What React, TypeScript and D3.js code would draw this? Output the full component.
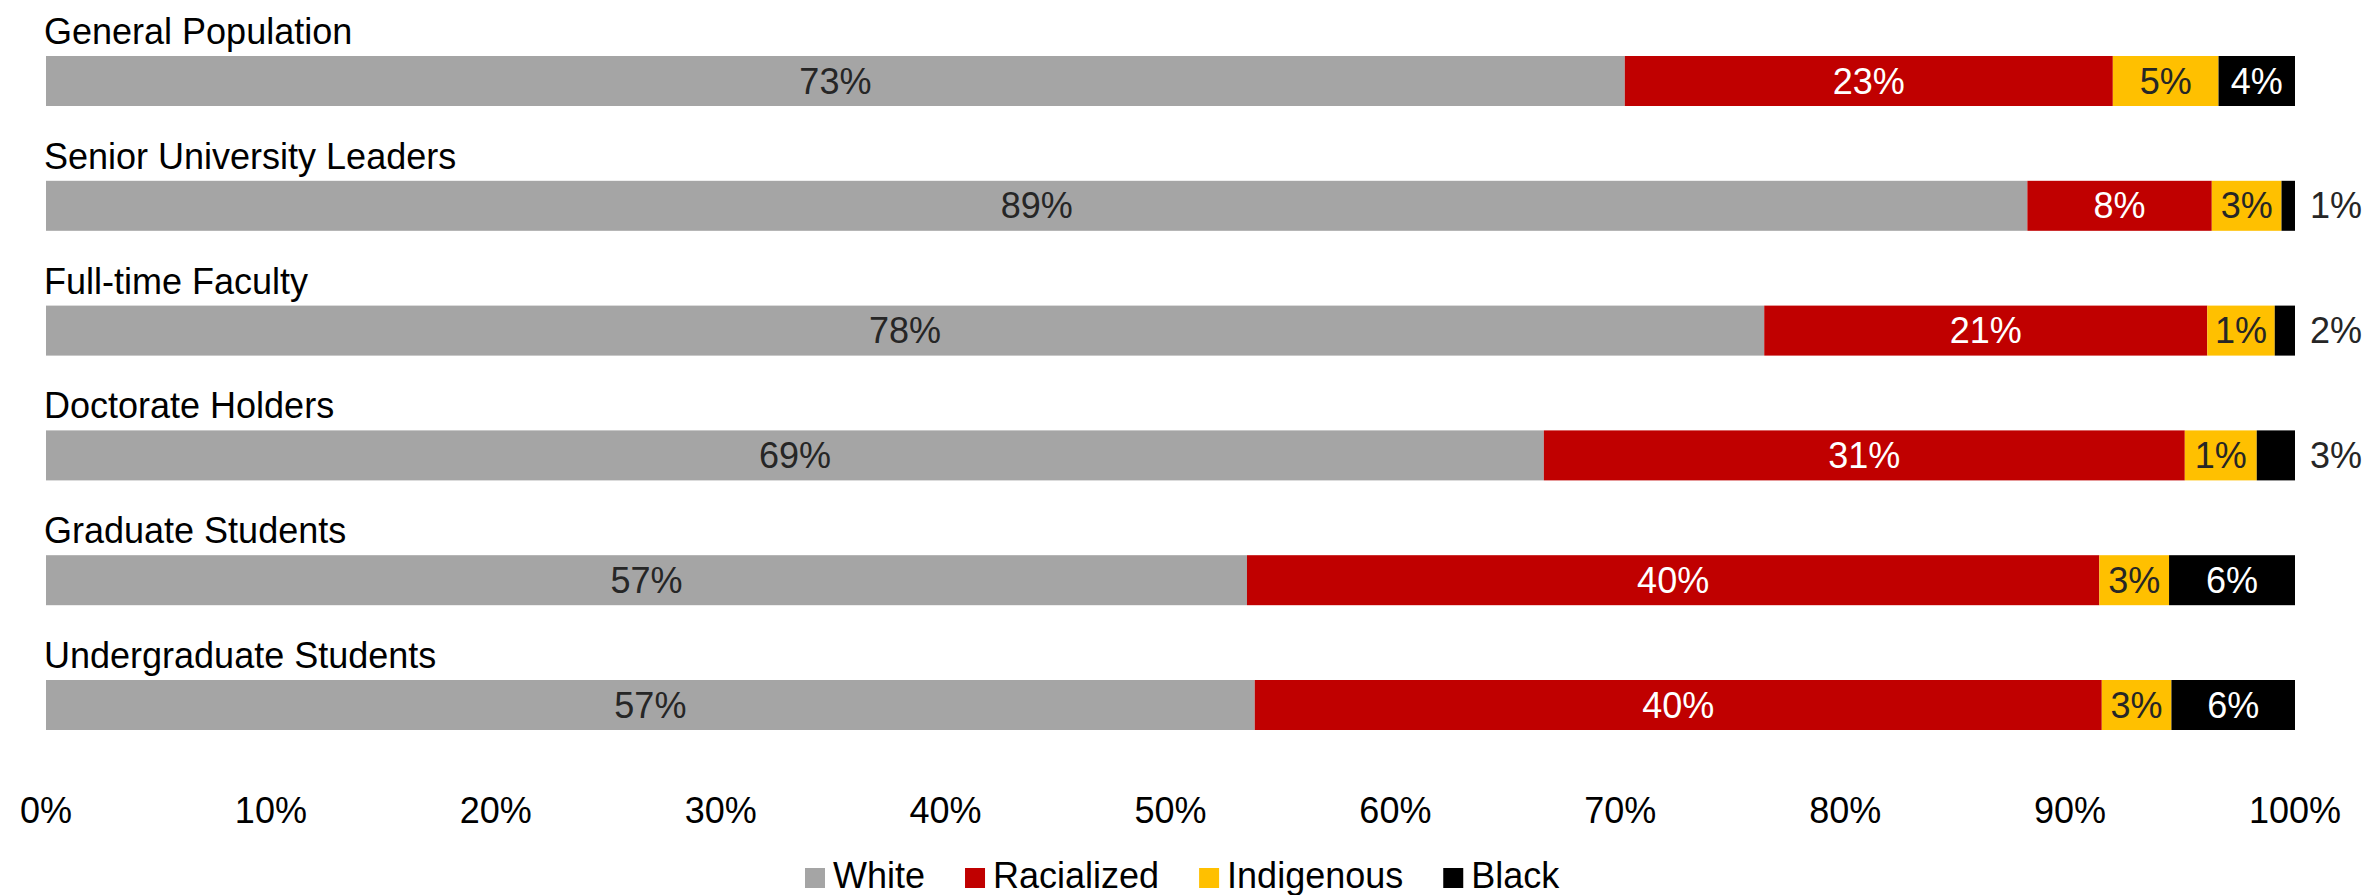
import React from 'react';
import * as d3 from 'd3';

const categories = [
  'General Population',
  'Senior University Leaders',
  'Full-time Faculty',
  'Doctorate Holders',
  'Graduate Students',
  'Undergraduate Students',
];
const seriesNames = ['White', 'Racialized', 'Indigenous', 'Black'];

// share of each bar
const white = [70.2, 88.1, 76.4, 66.6, 53.4, 53.8];
const racialized = [21.7, 8.2, 19.7, 28.5, 37.9, 37.7];
const indigenous = [4.7, 3.1, 3.0, 3.2, 3.1, 3.1];
const black = [3.4, 0.6, 0.9, 1.7, 5.6, 5.5];

// data labels as printed on the chart
const whiteLabels = ['73%', '89%', '78%', '69%', '57%', '57%'];
const racializedLabels = ['23%', '8%', '21%', '31%', '40%', '40%'];
const indigenousLabels = ['5%', '3%', '1%', '1%', '3%', '3%'];
const blackLabels = ['4%', '1%', '2%', '3%', '6%', '6%'];

const xTickValues = [0, 0.1, 0.2, 0.3, 0.4, 0.5, 0.6, 0.7, 0.8, 0.9, 1];

const colors = ['#A5A5A5', '#C00000', '#FFC000', '#000000'];
const labelColors = ['#262626', '#FFFFFF', '#262626', '#FFFFFF'];

const W = 2367;
const H = 895;
const FONT = '"Liberation Sans", Arial, sans-serif';
const FS = 36;

let ctx: CanvasRenderingContext2D | null = null;
function measure(t: string): number {
  if (!ctx) {
    const c = document.createElement('canvas');
    ctx = c.getContext('2d');
  }
  if (!ctx) return t.length * FS * 0.55;
  ctx.font = `${FS}px ${FONT}`;
  return ctx.measureText(t).width;
}

export default function App() {
  const x = d3.scaleLinear().domain([0, 1]).range([46, 2295]);
  const y = d3
    .scaleBand<string>()
    .domain(categories)
    .range([56, 56 + 124.8 * categories.length])
    .paddingInner(0)
    .paddingOuter(0);
  const barH = 50;

  const table = categories.map((c, i) => ({
    category: c,
    White: white[i],
    Racialized: racialized[i],
    Indigenous: indigenous[i],
    Black: black[i],
  }));
  const labels = [whiteLabels, racializedLabels, indigenousLabels, blackLabels];

  const stack = d3
    .stack<any>()
    .keys(seriesNames)
    .offset(d3.stackOffsetExpand);
  const series = stack(table);

  const fmt = d3.format('.0%');

  // legend layout
  const sq = 20;
  const gapSqText = 8;
  const gapItems = 40;
  let lx = 805;
  const legendItems = seriesNames.map((n, i) => {
    const item = { name: n, color: colors[i], x: lx };
    lx += sq + gapSqText + measure(n) + gapItems;
    return item;
  });
  const legendY = 888;

  return (
    <div style={{ position: 'absolute', left: 0, top: 0 }}>
      <svg width={W} height={H} style={{ display: 'block', background: '#fff' }}>
        <g fontFamily={FONT} fontSize={FS}>
          {categories.map((c) => (
            <text key={c} x={44} y={(y(c) as number) - 12} fill="#000">
              {c}
            </text>
          ))}
          {series.map((s, si) => (
            <g key={s.key}>
              {s.map((d, i) => {
                const x0 = x(d[0]);
                const x1 = x(d[1]);
                const yy = y(categories[i]) as number;
                return (
                  <rect
                    key={i}
                    x={x0}
                    y={yy}
                    width={Math.max(0, x1 - x0)}
                    height={barH}
                    fill={colors[si]}
                  />
                );
              })}
            </g>
          ))}
          {series.map((s, si) => (
            <g key={'l' + s.key}>
              {s.map((d, i) => {
                const x0 = x(d[0]);
                const x1 = x(d[1]);
                const yy = (y(categories[i]) as number) + barH / 2;
                const t = labels[si][i];
                const tw = measure(t);
                const outside = x1 - x0 < tw + 4;
                return outside ? (
                  <text key={i} x={x1 + 15} y={yy} dy="0.35em" fill="#262626" textAnchor="start">
                    {t}
                  </text>
                ) : (
                  <text
                    key={i}
                    x={(x0 + x1) / 2}
                    y={yy}
                    dy="0.35em"
                    fill={labelColors[si]}
                    textAnchor="middle"
                  >
                    {t}
                  </text>
                );
              })}
            </g>
          ))}
          {xTickValues.map((v) => (
            <text key={v} x={x(v)} y={823} textAnchor="middle" fill="#000">
              {fmt(v)}
            </text>
          ))}
          {legendItems.map((it) => (
            <g key={it.name}>
              <rect x={it.x} y={legendY - 20} width={sq} height={sq} fill={it.color} />
              <text x={it.x + sq + gapSqText} y={legendY} fill="#000">
                {it.name}
              </text>
            </g>
          ))}
        </g>
      </svg>
    </div>
  );
}
